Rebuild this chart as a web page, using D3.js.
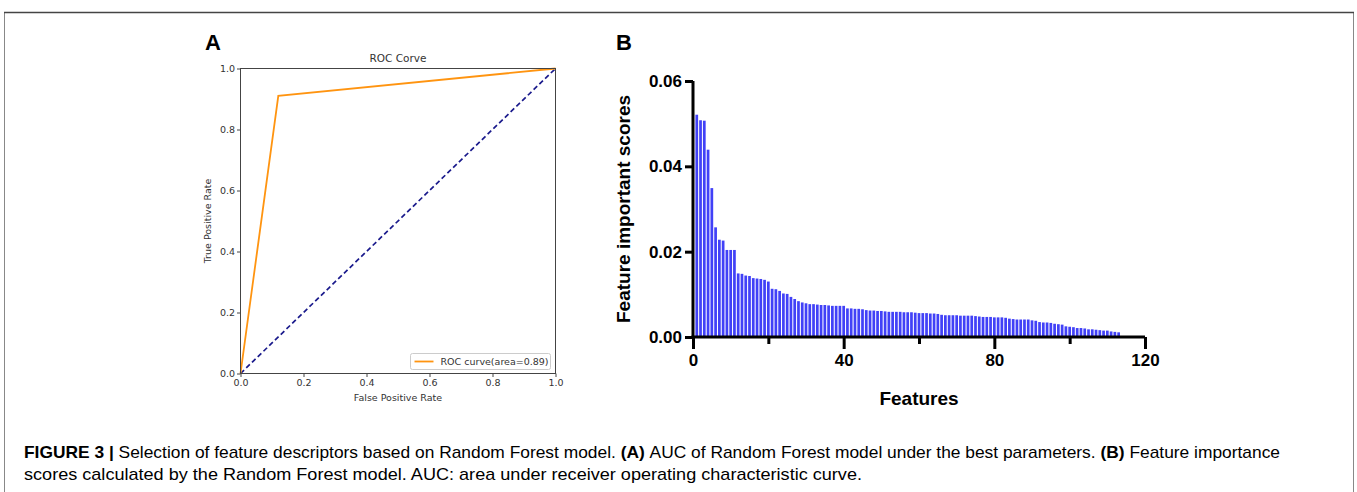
<!DOCTYPE html>
<html>
<head>
<meta charset="utf-8">
<script src="https://cdn.jsdelivr.net/npm/d3@7"></script>
<style>
  body { margin: 0; background: #fff; }
  svg { display: block; }
</style>
</head>
<body>
<script>
// ROC curve (panel A)
var rocFpr = [0, 0.12, 1];
var rocTpr = [0, 0.91, 1];
var rocTicks = [0, 0.2, 0.4, 0.6, 0.8, 1.0];
var rocLegend = "ROC curve(area=0.89)";

// feature importance scores (panel B), feature 1..113
var importance = [
  0.0521, 0.0508, 0.0507, 0.0439, 0.0349, 0.0257, 0.0228, 0.0226, 0.0204, 0.0204,
  0.0204, 0.0149, 0.0148, 0.0144, 0.0143, 0.0138, 0.0137, 0.0136, 0.0134, 0.0130,
  0.0113, 0.0112, 0.0108, 0.0102, 0.0101, 0.0094, 0.0089, 0.0084, 0.0081, 0.0079,
  0.0077, 0.0077, 0.0076, 0.0075, 0.0075, 0.0074, 0.0073, 0.0073, 0.0073, 0.0073,
  0.0067, 0.0067, 0.0066, 0.0066, 0.0065, 0.0063, 0.0062, 0.0062, 0.0061, 0.0061,
  0.0060, 0.0059, 0.0059, 0.0059, 0.0059, 0.0058, 0.0058, 0.0058, 0.0057, 0.0056,
  0.0056, 0.0056, 0.0055, 0.0055, 0.0054, 0.0052, 0.0051, 0.0051, 0.0051, 0.0051,
  0.0050, 0.0050, 0.0050, 0.0050, 0.0049, 0.0048, 0.0047, 0.0047, 0.0047, 0.0046,
  0.0046, 0.0046, 0.0045, 0.0043, 0.0042, 0.0041, 0.0041, 0.0041, 0.0041, 0.0039,
  0.0038, 0.0035, 0.0034, 0.0034, 0.0033, 0.0031, 0.0030, 0.0029, 0.0025, 0.0024,
  0.0023, 0.0021, 0.0021, 0.0020, 0.0018, 0.0018, 0.0017, 0.0016, 0.0015, 0.0015,
  0.0013, 0.0012, 0.0011
];
var impYTicks = [0, 0.02, 0.04, 0.06];
var impXMajor = [0, 40, 80, 120];
var impXMinor = [20, 60, 100];

var caption1 = [
  {t: "FIGURE 3 | ", b: true},
  {t: "Selection of feature descriptors based on Random Forest model. ", b: false},
  {t: "(A) ", b: true},
  {t: "AUC of Random Forest model under the best parameters. ", b: false},
  {t: "(B) ", b: true},
  {t: "Feature importance", b: false}
];
var caption2 = "scores calculated by the Random Forest model. AUC: area under receiver operating characteristic curve.";

var W = 1357, H = 492;
var svg = d3.select("body").append("svg").attr("width", W).attr("height", H);

// frame
svg.append("rect").attr("x", 4.5).attr("y", 12.5).attr("width", 1349).attr("height", 520)
  .attr("fill", "none").attr("stroke", "#888").attr("stroke-width", 1);
svg.append("line").attr("x1", 4).attr("x2", 1354).attr("y1", 12.5).attr("y2", 12.5)
  .attr("stroke", "#444").attr("stroke-width", 1.5);

// ---------- panel A ----------
var mpl = "'DejaVu Sans', sans-serif";
var ax = {left: 240.5, right: 555.5, top: 68.5, bottom: 373.5};
var xA = d3.scaleLinear().domain([0, 1]).range([ax.left, ax.right]);
var yA = d3.scaleLinear().domain([0, 1]).range([ax.bottom, ax.top]);

svg.append("text").attr("x", 205).attr("y", 50).text("A")
  .attr("font-family", "Arial, 'Liberation Sans', sans-serif").attr("font-weight", "bold").attr("font-size", 22);

var gA = svg.append("g");
// diagonal
gA.append("line").attr("x1", xA(0)).attr("y1", yA(0)).attr("x2", xA(1)).attr("y2", yA(1))
  .attr("stroke", "#1a1a8c").attr("stroke-width", 1.7).attr("stroke-dasharray", "5,3");
// roc line
var rocLine = d3.line().x(function(d) { return xA(d[0]); }).y(function(d) { return yA(d[1]); });
gA.append("path").datum(d3.zip(rocFpr, rocTpr)).attr("d", rocLine)
  .attr("fill", "none").attr("stroke", "#ff9410").attr("stroke-width", 1.8);

gA.append("rect").attr("x", ax.left).attr("y", ax.top).attr("width", ax.right - ax.left).attr("height", ax.bottom - ax.top)
  .attr("fill", "none").attr("stroke", "#444").attr("stroke-width", 1);

var axBottom = d3.axisBottom(xA).tickValues(rocTicks).tickFormat(d3.format(".1f")).tickSize(3.5).tickPadding(2);
var gxa = gA.append("g").attr("transform", "translate(0," + ax.bottom + ")").call(axBottom);
var axLeft = d3.axisLeft(yA).tickValues(rocTicks).tickFormat(d3.format(".1f")).tickSize(3.5).tickPadding(2);
var gya = gA.append("g").attr("transform", "translate(" + ax.left + ",0)").call(axLeft);
[gxa, gya].forEach(function(g) {
  g.select(".domain").remove();
  g.selectAll("line").attr("stroke", "#444");
  g.selectAll("text").attr("font-family", mpl).attr("font-size", 9.5).attr("fill", "#333");
});

gA.append("text").attr("x", (ax.left + ax.right) / 2).attr("y", 62).attr("text-anchor", "middle")
  .attr("font-family", mpl).attr("font-size", 10.5).attr("fill", "#333").text("ROC Corve");
gA.append("text").attr("x", (ax.left + ax.right) / 2).attr("y", 401).attr("text-anchor", "middle")
  .attr("font-family", mpl).attr("font-size", 9.5).attr("fill", "#333").text("False Positive Rate");
gA.append("text").attr("transform", "translate(211," + ((ax.top + ax.bottom) / 2) + ") rotate(-90)")
  .attr("text-anchor", "middle").attr("font-family", mpl).attr("font-size", 9.5).attr("fill", "#333").text("True Positive Rate");

// legend
var lg = gA.append("g").attr("transform", "translate(410.5,353.5)");
lg.append("rect").attr("width", 140).attr("height", 16).attr("rx", 2)
  .attr("fill", "#fff").attr("stroke", "#ccc");
lg.append("line").attr("x1", 4).attr("x2", 23).attr("y1", 8).attr("y2", 8)
  .attr("stroke", "#ff9410").attr("stroke-width", 1.8);
lg.append("text").attr("x", 30).attr("y", 11.5).attr("font-family", mpl).attr("font-size", 9.5)
  .attr("fill", "#333").text(rocLegend);

// ---------- panel B ----------
var arial = "Arial, 'Liberation Sans', sans-serif";
var bx = {left: 693, right: 1145, top: 81, bottom: 337};
var xB = d3.scaleLinear().domain([0, 120]).range([bx.left, bx.right]);
var yB = d3.scaleLinear().domain([0, 0.06]).range([bx.bottom, bx.top]);

svg.append("text").attr("x", 616).attr("y", 50).text("B")
  .attr("font-family", arial).attr("font-weight", "bold").attr("font-size", 22);

var gB = svg.append("g");
var step = xB(1) - xB(0);
gB.selectAll(".bar").data(importance).enter().append("rect")
  .attr("class", "bar")
  .attr("x", function(d, i) { return xB(i + 1) - step * 0.36; })
  .attr("width", step * 0.72)
  .attr("y", function(d) { return yB(d); })
  .attr("height", function(d) { return yB(0) - yB(d); })
  .attr("fill", "#4141f7");

var gyb = gB.append("g").attr("transform", "translate(" + bx.left + ",0)")
  .call(d3.axisLeft(yB).tickValues(impYTicks).tickFormat(d3.format(".2f")).tickSize(8).tickPadding(3));
var gxb = gB.append("g").attr("transform", "translate(0," + bx.bottom + ")")
  .call(d3.axisBottom(xB).tickValues(impXMajor).tickFormat(d3.format("d")).tickSize(12).tickPadding(5));
gB.append("g").attr("transform", "translate(0," + bx.bottom + ")")
  .call(d3.axisBottom(xB).tickValues(impXMinor).tickFormat("").tickSize(7))
  .call(function(g) { g.select(".domain").remove(); })
  .selectAll("line").attr("stroke", "#000").attr("stroke-width", 3);
[gxb, gyb].forEach(function(g) {
  g.select(".domain").attr("stroke", "#000").attr("stroke-width", 3);
  g.selectAll(".tick line").attr("stroke", "#000").attr("stroke-width", 3);
  g.selectAll("text").attr("font-family", arial).attr("font-weight", "bold").attr("font-size", 17).attr("fill", "#000");
});
// redraw the domains as plain lines so the ends are square
gyb.select(".domain").attr("d", "M0," + (bx.bottom + 1.5) + "V" + bx.top);
gxb.select(".domain").attr("d", "M" + (bx.left - 1.5) + ",0H" + bx.right);

gB.append("text").attr("x", (bx.left + bx.right) / 2).attr("y", 405).attr("text-anchor", "middle")
  .attr("font-family", arial).attr("font-weight", "bold").attr("font-size", 19).text("Features");
gB.append("text").attr("transform", "translate(630," + ((bx.top + bx.bottom) / 2) + ") rotate(-90)")
  .attr("text-anchor", "middle").attr("font-family", arial).attr("font-weight", "bold").attr("font-size", 19)
  .text("Feature important scores");

// ---------- caption ----------
var capFont = "'Liberation Sans', Arial, sans-serif";
var c1 = svg.append("text").attr("x", 24).attr("y", 458).attr("font-family", capFont).attr("font-size", 17)
  .attr("fill", "#000").attr("textLength", 1256).attr("lengthAdjust", "spacingAndGlyphs");
c1.selectAll("tspan").data(caption1).enter().append("tspan")
  .attr("font-weight", function(d) { return d.b ? "bold" : "normal"; })
  .text(function(d) { return d.t; });
svg.append("text").attr("x", 24).attr("y", 480).attr("font-family", capFont).attr("font-size", 17)
  .attr("fill", "#000").attr("textLength", 838).attr("lengthAdjust", "spacingAndGlyphs").text(caption2);
</script>
</body>
</html>
